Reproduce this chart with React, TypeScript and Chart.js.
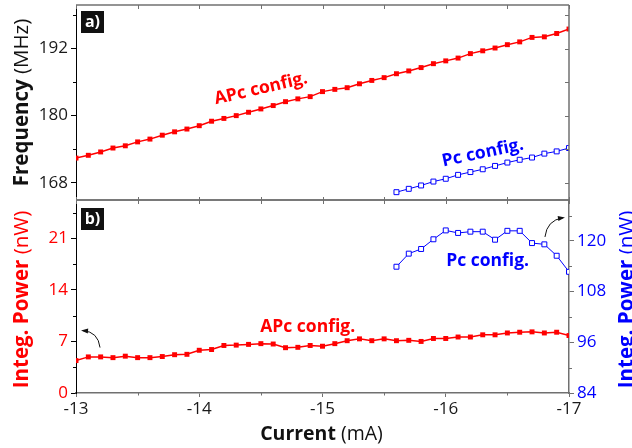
import React, { useEffect, useRef } from 'react';
import { Chart, registerables } from 'chart.js';
Chart.register(...registerables);

// ---------- data ----------
const currentAPc = [-13.0, -13.1, -13.2, -13.3, -13.4, -13.5, -13.6, -13.7, -13.8, -13.9, -14.0, -14.1, -14.2, -14.3, -14.4, -14.5, -14.6, -14.7, -14.8, -14.9, -15.0, -15.1, -15.2, -15.3, -15.4, -15.5, -15.6, -15.7, -15.8, -15.9, -16.0, -16.1, -16.2, -16.3, -16.4, -16.5, -16.6, -16.7, -16.8, -16.9, -17.0];
const freqAPc = [172.4, 172.9, 173.5, 174.2, 174.6, 175.3, 175.8, 176.5, 177.1, 177.6, 178.2, 179.0, 179.5, 180.0, 180.6, 181.2, 181.8, 182.5, 183.0, 183.4, 184.3, 184.7, 185.0, 185.7, 186.3, 186.8, 187.5, 188.0, 188.6, 189.3, 189.8, 190.3, 191.1, 191.6, 192.1, 192.7, 193.2, 194.0, 194.1, 194.7, 195.5];
const powerAPc = [4.4, 4.9, 4.9, 4.8, 5.0, 4.8, 4.8, 4.95, 5.2, 5.25, 5.8, 5.9, 6.45, 6.5, 6.6, 6.7, 6.65, 6.15, 6.2, 6.45, 6.35, 6.7, 7.1, 7.35, 7.1, 7.35, 7.1, 7.15, 7.0, 7.4, 7.4, 7.6, 7.6, 7.9, 7.9, 8.15, 8.25, 8.3, 8.15, 8.25, 7.8];
const currentPc = [-15.6, -15.7, -15.8, -15.9, -16.0, -16.1, -16.2, -16.3, -16.4, -16.5, -16.6, -16.7, -16.8, -16.9, -17.0];
const freqPc = [166.3, 166.9, 167.5, 168.2, 168.7, 169.4, 169.9, 170.4, 171.0, 171.6, 172.1, 172.5, 173.2, 173.6, 174.2];
const powerPc = [113.9, 117.0, 118.1, 120.4, 122.5, 121.9, 122.2, 122.2, 120.3, 122.4, 122.4, 119.5, 119.2, 116.5, 112.7];

const currentTicks = [-17, -16.5, -16, -15.5, -15, -14.5, -14, -13.5, -13];
const currentLabels = [-17, -16, -15, -14, -13];
const freqTicks = [168, 174, 180, 186, 192, 198];
const freqLabels = [168, 180, 192];
const powerTicks = [0, 3.5, 7, 10.5, 14, 17.5, 21, 24.5];
const powerLabels = [0, 7, 14, 21];
const powerPcTicks = [84, 90, 96, 102, 108, 114, 120, 126];
const powerPcLabels = [84, 96, 108, 120];

// ---------- style ----------
const RED = '#ff0000';
const BLUE = '#0000ff';
const FRAME = '#707070';
const INK = '#1a1a1a';
const FF = '"Open Sans", "Noto Sans", sans-serif';

type Part = [string, string];

function drawMixed(ctx: CanvasRenderingContext2D, parts: Part[], x: number, y: number, rot: number, color: string) {
  ctx.save();
  ctx.translate(x, y);
  if (rot) ctx.rotate(rot);
  let total = 0;
  const ws = parts.map(([t, f]) => { ctx.font = f; const w = ctx.measureText(t).width; total += w; return w; });
  let cx = -total / 2;
  ctx.fillStyle = color;
  ctx.textAlign = 'left';
  ctx.textBaseline = 'alphabetic';
  parts.forEach(([t, f], i) => { ctx.font = f; ctx.fillText(t, cx, 0); cx += ws[i]; });
  ctx.restore();
}

function drawLabel(ctx: CanvasRenderingContext2D, text: string, x: number, y: number, rot: number, color: string) {
  ctx.save();
  ctx.translate(x, y);
  ctx.rotate(rot);
  ctx.font = `bold 17.5px ${FF}`;
  ctx.fillStyle = color;
  ctx.textAlign = 'center';
  ctx.textBaseline = 'middle';
  ctx.fillText(text, 0, 0);
  ctx.restore();
}

function panelTag(ctx: CanvasRenderingContext2D, text: string, x: number, y: number) {
  ctx.save();
  ctx.fillStyle = '#111';
  ctx.fillRect(x, y, 23, 22);
  ctx.fillStyle = '#fff';
  ctx.font = `bold 16px ${FF}`;
  ctx.textAlign = 'center';
  ctx.textBaseline = 'middle';
  ctx.fillText(text, x + 11.5, y + 11);
  ctx.restore();
}

function hTicks(ctx: CanvasRenderingContext2D, scale: any, vals: number[], yEdge: number, dir: number, len: number, color: string) {
  ctx.save();
  ctx.strokeStyle = color;
  ctx.lineWidth = 1;
  ctx.beginPath();
  vals.forEach(v => {
    const p = Math.round(scale.getPixelForValue(v)) + 0.5;
    ctx.moveTo(p, yEdge);
    ctx.lineTo(p, yEdge + dir * len);
  });
  ctx.stroke();
  ctx.restore();
}

function vTicks(ctx: CanvasRenderingContext2D, scale: any, vals: number[], xEdge: number, dir: number, len: number, color: string) {
  ctx.save();
  ctx.strokeStyle = color;
  ctx.lineWidth = 1;
  ctx.beginPath();
  vals.forEach(v => {
    const p = Math.round(scale.getPixelForValue(v)) + 0.5;
    ctx.moveTo(xEdge, p);
    ctx.lineTo(xEdge + dir * len, p);
  });
  ctx.stroke();
  ctx.restore();
}

function frameLine(ctx: CanvasRenderingContext2D, x1: number, y1: number, x2: number, y2: number) {
  ctx.save();
  ctx.strokeStyle = FRAME;
  ctx.lineWidth = 1.5;
  ctx.beginPath();
  ctx.moveTo(x1, y1);
  ctx.lineTo(x2, y2);
  ctx.stroke();
  ctx.restore();
}

function arrow(ctx: CanvasRenderingContext2D, sx: number, sy: number, cx: number, cy: number, hx: number, hy: number) {
  ctx.save();
  ctx.strokeStyle = '#111';
  ctx.fillStyle = '#111';
  ctx.lineWidth = 1;
  ctx.beginPath();
  ctx.moveTo(sx, sy);
  ctx.quadraticCurveTo(cx, cy, hx, hy);
  ctx.stroke();
  const a = Math.atan2(hy - cy, hx - cx);
  ctx.beginPath();
  ctx.moveTo(hx + 2 * Math.cos(a), hy + 2 * Math.sin(a));
  ctx.lineTo(hx - 5 * Math.cos(a) + 2.5 * Math.sin(a), hy - 5 * Math.sin(a) - 2.5 * Math.cos(a));
  ctx.lineTo(hx - 5 * Math.cos(a) - 2.5 * Math.sin(a), hy - 5 * Math.sin(a) + 2.5 * Math.cos(a));
  ctx.closePath();
  ctx.fill();
  ctx.restore();
}

const minorOf = (all: number[], major: number[]) => all.filter(v => !major.includes(v));

const topDecor = {
  id: 'topDecor',
  afterDraw(chart: any) {
    const ctx = chart.ctx as CanvasRenderingContext2D;
    const { left, right, top, bottom } = chart.chartArea;
    const x = chart.scales.x;
    const y = chart.scales.y;
    frameLine(ctx, left, top, right, top);
    frameLine(ctx, right, top, right, bottom);
    frameLine(ctx, left, bottom, right, bottom);
    hTicks(ctx, x, currentTicks, top, 1, 4, FRAME);
    hTicks(ctx, x, currentTicks, bottom, -1, 3, FRAME);
    vTicks(ctx, y, freqTicks, right, -1, 4, FRAME);
    vTicks(ctx, y, minorOf(freqTicks, freqLabels), left, -1, 3, '#000');
    drawMixed(ctx, [['Frequency', `bold 20.5px ${FF}`], [' (MHz)', `20.5px ${FF}`]], 28, (top + bottom) / 2, -Math.PI / 2, '#111');
    panelTag(ctx, 'a)', left + 5, top + 6);
    drawLabel(ctx, 'APc config.', x.getPixelForValue(-14.5), y.getPixelForValue(184.8), -13 * Math.PI / 180, RED);
    drawLabel(ctx, 'Pc config.', x.getPixelForValue(-16.3), y.getPixelForValue(173.3), -12 * Math.PI / 180, BLUE);
  },
};

const botDecor = {
  id: 'botDecor',
  afterDraw(chart: any) {
    const ctx = chart.ctx as CanvasRenderingContext2D;
    const { left, right, top, bottom } = chart.chartArea;
    const x = chart.scales.x;
    const y = chart.scales.y;
    const y2 = chart.scales.y2;
    frameLine(ctx, left, top, right, top);
    hTicks(ctx, x, currentTicks, top, 1, 4, FRAME);
    hTicks(ctx, x, minorOf(currentTicks, currentLabels), bottom, 1, 2.5, FRAME);
    vTicks(ctx, y, minorOf(powerTicks, powerLabels), left, -1, 3, '#000');
    vTicks(ctx, y2, minorOf(powerPcTicks, powerPcLabels), right, 1, 3, FRAME);
    drawMixed(ctx, [['Integ. Power', `bold 20.5px ${FF}`], [' (nW)', `20.5px ${FF}`]], 28, (top + bottom) / 2 + 3, -Math.PI / 2, RED);
    drawMixed(ctx, [['Integ. Power', `bold 20.5px ${FF}`], [' (nW)', `20.5px ${FF}`]], 633, (top + bottom) / 2 + 3, -Math.PI / 2, BLUE);
    drawMixed(ctx, [['Current', `bold 19.5px ${FF}`], [' (mA)', `19.5px ${FF}`]], (left + right) / 2 - 1, 245, 0, '#111');
    panelTag(ctx, 'b)', left + 5, top + 8);
    drawLabel(ctx, 'APc config.', x.getPixelForValue(-14.88), y.getPixelForValue(8.9), 0, RED);
    drawLabel(ctx, 'Pc config.', x.getPixelForValue(-16.34), y2.getPixelForValue(115.3), 0, BLUE);
    arrow(ctx,
      x.getPixelForValue(-13.195), y.getPixelForValue(6.17),
      x.getPixelForValue(-13.18), y.getPixelForValue(8.3),
      x.getPixelForValue(-13.057), y.getPixelForValue(8.47));
    arrow(ctx,
      x.getPixelForValue(-16.805), y2.getPixelForValue(120.95),
      x.getPixelForValue(-16.82), y2.getPixelForValue(124.9),
      x.getPixelForValue(-16.951), y2.getPixelForValue(125.5));
  },
};

const tickFont = { family: FF, size: 17 };

function majorColor(labels: number[], color: string) {
  return (c: any) => (c.tick && labels.includes(c.tick.value) ? color : 'rgba(0,0,0,0)');
}

export default function App() {
  const topRef = useRef<HTMLCanvasElement>(null);
  const botRef = useRef<HTMLCanvasElement>(null);

  useEffect(() => {
    const c1 = new Chart(topRef.current!, {
      type: 'line',
      data: {
        datasets: [
          {
            data: currentAPc.map((v, i) => ({ x: v, y: freqAPc[i] })),
            borderColor: RED, backgroundColor: RED, borderWidth: 1.5,
            pointStyle: 'rect', pointRadius: 3.5, pointBackgroundColor: RED, pointBorderColor: RED, pointBorderWidth: 0,
          },
          {
            data: currentPc.map((v, i) => ({ x: v, y: freqPc[i] })),
            borderColor: BLUE, backgroundColor: '#fff', borderWidth: 1,
            pointStyle: 'rect', pointRadius: 3.5, pointBackgroundColor: '#fff', pointBorderColor: BLUE, pointBorderWidth: 1,
          },
        ],
      },
      options: {
        animation: false, responsive: false, devicePixelRatio: 1,
        layout: { padding: { left: 0, right: 63, top: 4, bottom: 10 } },
        plugins: { legend: { display: false }, tooltip: { enabled: false } },
        scales: {
          x: { type: 'linear', min: -17, max: -13, reverse: true, display: false },
          y: {
            type: 'linear', min: 164.9, max: 199.8,
            afterBuildTicks: (s: any) => { s.ticks = freqTicks.map(v => ({ value: v })); },
            afterFit: (s: any) => { s.width = 76; s.paddingTop = 0; s.paddingBottom = 0; },
            ticks: { font: tickFont, color: INK, padding: 3, callback: (v: any) => (freqLabels.includes(v) ? String(v) : '') },
            grid: { drawOnChartArea: false, tickLength: 5, tickColor: majorColor(freqLabels, '#000') },
            border: { color: '#000', width: 1 },
          },
        },
      },
      plugins: [topDecor],
    } as any);

    const c2 = new Chart(botRef.current!, {
      type: 'line',
      data: {
        datasets: [
          {
            yAxisID: 'y',
            data: currentAPc.map((v, i) => ({ x: v, y: powerAPc[i] })),
            borderColor: RED, backgroundColor: RED, borderWidth: 1.5,
            pointStyle: 'rect', pointRadius: 3.5, pointBackgroundColor: RED, pointBorderColor: RED, pointBorderWidth: 0,
          },
          {
            yAxisID: 'y2',
            data: currentPc.map((v, i) => ({ x: v, y: powerPc[i] })),
            borderColor: BLUE, backgroundColor: '#fff', borderWidth: 1,
            pointStyle: 'rect', pointRadius: 3.5, pointBackgroundColor: '#fff', pointBorderColor: BLUE, pointBorderWidth: 1,
          },
        ],
      },
      options: {
        animation: false, responsive: false, devicePixelRatio: 1,
        layout: { padding: { left: 0, right: 0, top: 5, bottom: 0 } },
        plugins: { legend: { display: false }, tooltip: { enabled: false } },
        scales: {
          x: {
            type: 'linear', min: -17, max: -13, reverse: true, position: 'bottom',
            afterBuildTicks: (s: any) => { s.ticks = currentTicks.map(v => ({ value: v })); },
            afterFit: (s: any) => { s.height = 55; s.paddingLeft = 0; s.paddingRight = 0; },
            ticks: { font: tickFont, color: INK, padding: 2, maxRotation: 0, autoSkip: false, callback: (v: any) => (currentLabels.includes(v) ? String(v) : '') },
            grid: { drawOnChartArea: false, tickLength: 4, tickColor: majorColor(currentLabels, FRAME) },
            border: { color: FRAME, width: 1.5 },
          },
          y: {
            type: 'linear', position: 'left', min: 0, max: 26.2,
            afterBuildTicks: (s: any) => { s.ticks = powerTicks.map(v => ({ value: v })); },
            afterFit: (s: any) => { s.width = 76; s.paddingTop = 0; s.paddingBottom = 0; },
            ticks: { font: tickFont, color: RED, padding: 3, callback: (v: any) => (powerLabels.includes(v) ? String(v) : '') },
            grid: { drawOnChartArea: false, tickLength: 5, tickColor: majorColor(powerLabels, '#000') },
            border: { color: '#000', width: 1 },
          },
          y2: {
            type: 'linear', position: 'right', min: 84, max: 129.7,
            afterBuildTicks: (s: any) => { s.ticks = powerPcTicks.map(v => ({ value: v })); },
            afterFit: (s: any) => { s.width = 63; s.paddingTop = 0; s.paddingBottom = 0; },
            ticks: { font: tickFont, color: BLUE, padding: 3, callback: (v: any) => (powerPcLabels.includes(v) ? String(v) : '') },
            grid: { drawOnChartArea: false, tickLength: 5, tickColor: majorColor(powerPcLabels, FRAME) },
            border: { color: FRAME, width: 1.5 },
          },
        },
      },
      plugins: [botDecor],
    } as any);

    return () => { c1.destroy(); c2.destroy(); };
  }, []);

  return (
    <div style={{ position: 'absolute', left: 0, top: 0, width: 632, height: 448, background: '#fff', overflow: 'hidden' }}>
      <canvas ref={topRef} width={632} height={210} style={{ position: 'absolute', left: 0, top: 0, width: 632, height: 210 }} />
      <canvas ref={botRef} width={632} height={253} style={{ position: 'absolute', left: 0, top: 195, width: 632, height: 253 }} />
    </div>
  );
}
